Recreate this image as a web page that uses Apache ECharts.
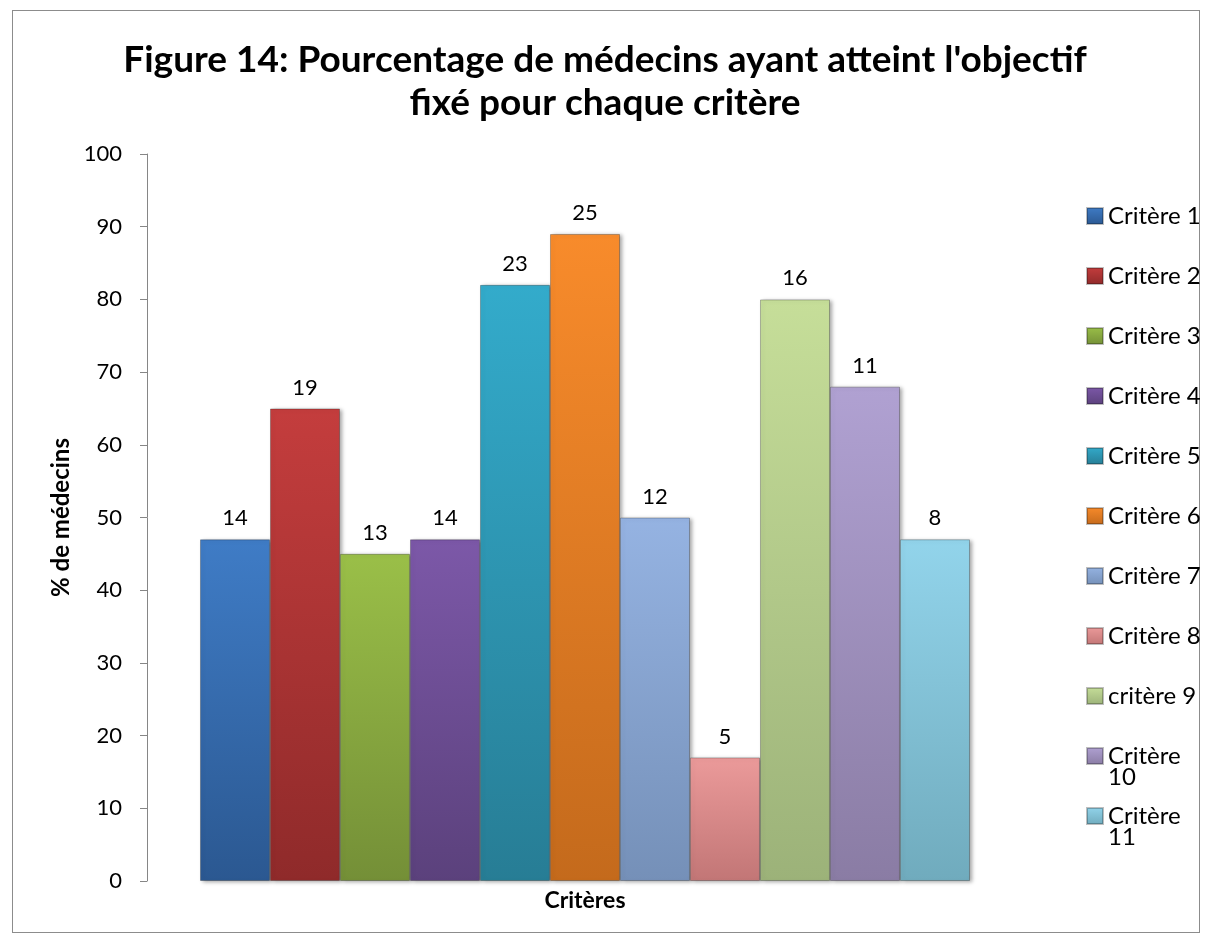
<!DOCTYPE html>
<html>
<head>
<meta charset="utf-8">
<script src="https://cdn.jsdelivr.net/npm/echarts@6/dist/echarts.min.js"></script>
<style>
  html, body { margin: 0; padding: 0; background: #fff; }
  #frame { position: absolute; left: 12px; top: 10px; width: 1186px; height: 921px; border: 1px solid #8c8c8c; }
  #main { position: absolute; left: 0; top: 0; width: 1211px; height: 944px; }
</style>
</head>
<body>
<div id="frame"></div>
<div id="main"></div>
<script>
// données
const criteres = ['Critère 1', 'Critère 2', 'Critère 3', 'Critère 4', 'Critère 5', 'Critère 6',
  'Critère 7', 'Critère 8', 'critère 9', 'Critère 10', 'Critère 11']
const pourcentages = [47, 65, 45, 47, 82, 89, 50, 17, 80, 68, 47]
const effectifs = [14, 19, 13, 14, 23, 25, 12, 5, 16, 11, 8]
const yTicks = [0, 10, 20, 30, 40, 50, 60, 70, 80, 90, 100]

// couleurs haut / bas de chaque barre
const couleurs = [
  ['#3f7cc6', '#2b5891'],
  ['#c43d3d', '#8f2a2a'],
  ['#9abf48', '#748f37'],
  ['#7c58a8', '#5b417c'],
  ['#33abcb', '#277d95'],
  ['#f88b2b', '#c46a1c'],
  ['#95b3e2', '#7590b8'],
  ['#eb9a9a', '#c27676'],
  ['#c6de99', '#9cb279'],
  ['#b0a1d2', '#8a7ca4'],
  ['#92d4eb', '#70abbd']
]

const font = 'Lato, "Open Sans", sans-serif'

const chart = echarts.init(document.getElementById('main'))

const series = criteres.map((name, i) => ({
  name: name,
  type: 'bar',
  data: [pourcentages[i]],
  barWidth: 70,
  barGap: '0%',
  itemStyle: {
    color: new echarts.graphic.LinearGradient(0, 0, 0, 1, [
      { offset: 0, color: couleurs[i][0] },
      { offset: 1, color: couleurs[i][1] }
    ]),
    borderColor: 'rgba(0,0,0,0.25)',
    borderWidth: 1,
    shadowColor: 'rgba(0,0,0,0.35)',
    shadowBlur: 4,
    shadowOffsetX: 2,
    shadowOffsetY: 1
  },
  label: {
    show: true,
    position: 'top',
    distance: 10,
    color: '#000',
    fontSize: 22,
    fontFamily: font,
    formatter: () => String(effectifs[i])
  }
}))

// "Critère 10" / "Critère 11" : le numéro passe à la ligne sous le mot (comme Excel)
const coupe = name => {
  const parts = name.split(' ')
  return parts[1].length > 1 ? parts[0] : name
}
const legendTop = 204
const legendPas = 60
const suites = criteres
  .map((name, i) => ({ num: name.split(' ')[1], i }))
  .filter(d => d.num.length > 1)
  .map(d => ({
    type: 'text',
    left: 1108,
    top: legendTop + d.i * legendPas + 21,
    style: { text: d.num, fontSize: 24, fontFamily: font, fill: '#000' }
  }))

chart.setOption({
  animation: false,
  title: {
    text: "Figure 14: Pourcentage de médecins ayant atteint l'objectif\nfixé pour chaque critère",
    left: 600,
    top: 34,
    textAlign: 'center',
    textStyle: {
      fontSize: 37,
      fontWeight: 'bold',
      fontFamily: font,
      color: '#000',
      lineHeight: 43
    }
  },
  legend: {
    orient: 'vertical',
    left: 1086,
    top: legendTop,
    padding: 0,
    itemWidth: 16,
    itemHeight: 16,
    itemGap: legendPas - 24,
    icon: 'rect',
    data: criteres,
    formatter: coupe,
    textStyle: { color: '#000', fontSize: 24, fontFamily: font, lineHeight: 24 }
  },
  graphic: suites,
  grid: {
    left: 147,
    right: 188,
    top: 154,
    bottom: 63
  },
  xAxis: {
    type: 'category',
    data: [''],
    name: 'Critères',
    nameLocation: 'middle',
    nameGap: 8,
    nameTextStyle: { fontSize: 23, fontWeight: 'bold', fontFamily: font, color: '#000', verticalAlign: 'top' },
    axisLine: { show: false },
    axisTick: { show: false },
    axisLabel: { show: false }
  },
  yAxis: {
    type: 'value',
    min: yTicks[0],
    max: yTicks[yTicks.length - 1],
    interval: 10,
    name: '% de médecins',
    nameLocation: 'middle',
    nameGap: 73,
    nameTextStyle: { fontSize: 24, fontWeight: 'bold', fontFamily: font, color: '#000' },
    axisLine: { show: true, lineStyle: { color: '#868686', width: 1 } },
    axisTick: { show: true, inside: false, length: 7, lineStyle: { color: '#868686' } },
    axisLabel: { fontSize: 22, fontFamily: font, color: '#000', margin: 25 },
    splitLine: { show: false }
  },
  series: series
})
</script>
</body>
</html>
